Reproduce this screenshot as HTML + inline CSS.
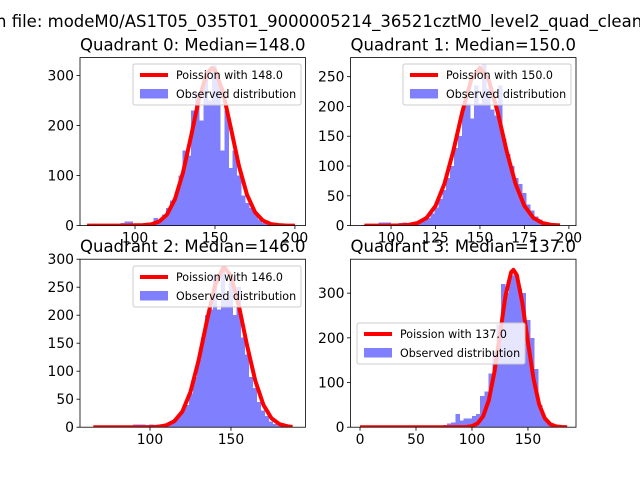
<!DOCTYPE html>
<html><head><meta charset="utf-8"><style>
body{margin:0;background:#fff}
svg{display:block;font-family:"DejaVu Sans","Liberation Sans",sans-serif}
</style></head><body>
<svg id="fig" width="640" height="480" viewBox="0 0 640 480">
<rect width="640" height="480" fill="#fff"/>
<text x="-4" y="27" font-size="16.5">n file: modeM0/AS1T05_035T01_9000005214_36521cztM0_level2_quad_clean</text>
</svg>
<script>
const q0Counts=[0,0,0,0,0,0,0,0,5,8,8,2,2,2,3,5,15,12,22,35,50,65,100,150,140,230,265,210,300,250,320,290,150,230,115,150,100,60,45,35,25,12,5,3,1,1,0,0,0,0];
const q1Counts=[1,2,1,1,5,5,5,2,1,4,5,3,3,5,8,10,13,20,30,45,60,80,100,130,150,200,205,180,235,205,270,230,195,185,235,145,120,100,80,70,55,35,25,15,10,5,4,2,1,0];
const q2Counts=[0,0,0,0,0,0,3,0,1,3,5,5,5,4,5,2,5,3,7,10,15,20,30,40,60,90,120,160,200,210,270,210,280,230,260,200,250,160,130,90,70,45,30,20,10,6,3,2,1,0];
const q3Counts=[0,0,0,0,0,0,0,0,0,0,0,0,0,0,1,1,3,2,3,4,5,8,10,30,15,20,20,25,30,70,80,120,170,230,320,300,340,345,310,300,240,200,130,50,20,10,3,1,0,0];
const q0Bins=[70,2.6];
const q1Bins=[84,2.24];
const q2Bins=[65,2.46];
const q3Bins=[0,3.7];
const q0CurveX=[70,75,80,85,90,95,100,105,110,115,120,125,130,135,140,145,148,150,155,160,165,170,175,180,185,190,195,200];
const q0CurveY=[0,0,0,0,0,0,0.6,1,2.4,8,22,53,106,178,254,305,315,311,267,194,119,62,27,10,3,1,0,0];
const q1CurveX=[85,90,95,100,105,110,115,120,125,130,135,140,145,150,155,160,165,170,175,180,185,190,195];
const q1CurveY=[0,0,0,0.1,0.3,1.3,4.5,13,33,70,125,190,244,265,244,190,125,70,33,13,4.5,1.3,0.3];
const q2CurveX=[65,70,75,80,85,90,95,100,105,110,115,120,125,130,135,140,145,146,150,155,160,165,170,175,180,185,188];
const q2CurveY=[0,0,0,0,0,0,0,0.2,0.9,3.4,10.6,28,63,119,188,252,284,285,270,215,145,83,40,16,5.4,1.5,0.5];
const q3CurveX=[0,20,40,60,80,95,100,105,110,115,120,125,130,135,137,140,145,150,155,160,165,170,175,180,185];
const q3CurveY=[0,0,0,0,0,0.5,2.4,8.4,24.7,60,123,208,295,347,352,341,278,190,108,51,20,6.6,1.8,0.4,0];
const q0XTicks=[100,150,200], q0YTicks=[0,100,200,300];
const q1XTicks=[100,125,150,175,200], q1YTicks=[0,50,100,150,200,250];
const q2XTicks=[100,150], q2YTicks=[0,50,100,150,200,250,300];
const q3XTicks=[0,50,100,150], q3YTicks=[0,100,200,300];
const titles=["Quadrant 0: Median=148.0","Quadrant 1: Median=150.0","Quadrant 2: Median=146.0","Quadrant 3: Median=137.0"];
const legendLabels=["Poission with 148.0","Poission with 150.0","Poission with 146.0","Poission with 137.0"];

const NS="http://www.w3.org/2000/svg";
const svg=document.getElementById('fig');
function mk(tag,attrs,parent){const e=document.createElementNS(NS,tag);for(const k in attrs)e.setAttribute(k,attrs[k]);(parent||svg).appendChild(e);return e;}

const panels=[
 {L:80,T:57.6,W:225.5,H:168,xd:[65.6,206.6],yd:[0,336],c:q0Counts,b:q0Bins,cx:q0CurveX,cy:q0CurveY,xt:q0XTicks,yt:q0YTicks,leg:[133,64]},
 {L:350.5,T:57.6,W:225.5,H:168,xd:[77.2,204],yd:[0,282],c:q1Counts,b:q1Bins,cx:q1CurveX,cy:q1CurveY,xt:q1XTicks,yt:q1YTicks,leg:[403,64]},
 {L:80,T:259.2,W:225.5,H:168,xd:[56.8,196],yd:[0,300],c:q2Counts,b:q2Bins,cx:q2CurveX,cy:q2CurveY,xt:q2XTicks,yt:q2YTicks,leg:[133,266]},
 {L:350.5,T:259.2,W:225.5,H:168,xd:[-8.5,192.9],yd:[0,376],c:q3Counts,b:q3Bins,cx:q3CurveX,cy:q3CurveY,xt:q3XTicks,yt:q3YTicks,leg:[357,323]}
];
panels.forEach((p,i)=>{
 const g=mk('g',{});
 
 
 const sx=v=>p.L+(v-p.xd[0])/(p.xd[1]-p.xd[0])*p.W;
 const sy=v=>p.T+p.H-(v-p.yd[0])/(p.yd[1]-p.yd[0])*p.H;
 const clipId='clip'+i;
 const cp=mk('clipPath',{id:clipId},g);mk('rect',{x:p.L,y:p.T,width:p.W,height:p.H},cp);
 const dg=mk('g',{'clip-path':'url(#'+clipId+')'},g);
 p.c.forEach((v,k)=>{
  const x0=sx(p.b[0]+k*p.b[1]), x1=sx(p.b[0]+(k+1)*p.b[1]);
  const r=mk('rect',{x:x0,y:sy(v),width:Math.max(0,x1-x0+0.4),height:sy(0)-sy(v),fill:'#8080ff','shape-rendering':'crispEdges'},dg);
  
  
 });
 const pts=p.cx.map((x,k)=>sx(x)+','+sy(p.cy[k])).join(' ');
 const pl=mk('polyline',{points:pts,fill:'none',stroke:'#ff0000','stroke-width':4,'stroke-linejoin':'round'},dg);
 
 
 p.xt.forEach(t=>{
  const x=sx(t);
  mk('line',{x1:x,y1:p.T+p.H,x2:x,y2:p.T+p.H+3.5,stroke:'#000','stroke-width':0.8},g);
  const tx=mk('text',{x:x,y:p.T+p.H+17,'font-size':13.9,'text-anchor':'middle'},g);tx.textContent=t;
  
  
 });
 p.yt.forEach(t=>{
  const y=sy(t);
  mk('line',{x1:p.L-3.5,y1:y,x2:p.L,y2:y,stroke:'#000','stroke-width':0.8},g);
  const tx=mk('text',{x:p.L-6,y:y+5,'font-size':13.9,'text-anchor':'end'},g);tx.textContent=t;
  
  
 });
 const [lx,ly]=p.leg;
 const lg=mk('g',{},g);
 
 
 mk('rect',{x:lx,y:ly,width:168,height:41,rx:2,fill:'#fff','fill-opacity':0.8,stroke:'#cccccc','stroke-width':1},lg);
 mk('line',{x1:lx+7,y1:ly+11,x2:lx+35,y2:ly+11,stroke:'#ff0000','stroke-width':4},lg);
 mk('rect',{x:lx+7,y:ly+25,width:28,height:9.5,fill:'#8080ff'},lg);
 const t1=mk('text',{x:lx+43,y:ly+15,'font-size':11.1},lg);t1.textContent=legendLabels[i];
 
 
 const t2=mk('text',{x:lx+43,y:ly+34,'font-size':11.1},lg);t2.textContent='Observed distribution';
 
 
 mk('rect',{x:p.L,y:p.T,width:p.W,height:p.H,fill:'none',stroke:'#000','stroke-width':0.8},g);
 const tt=mk('text',{x:p.L+p.W/2,y:p.T-7,'font-size':16.5,'text-anchor':'middle'},g);tt.textContent=titles[i];
 
 
});
</script>
</body></html>
